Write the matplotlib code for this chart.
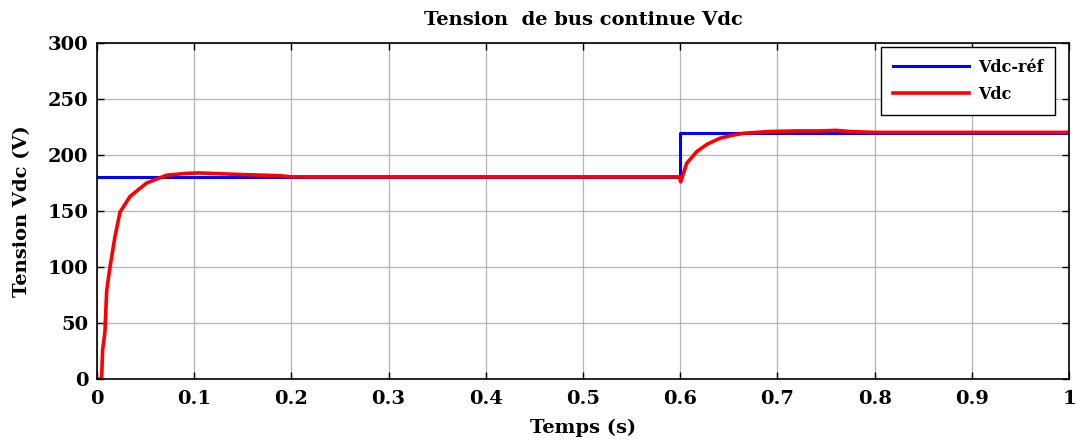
import numpy as np
import matplotlib.pyplot as plt

plt.rcParams['font.family'] = ['DejaVu Serif']
plt.rcParams['font.weight'] = 'bold'

# reference voltage (step at 0.6 s)
t_ref = [0.0, 0.6, 0.6, 1.0]
v_ref = [180, 180, 220, 220]

t_vdc = [0.0, 0.0048, 0.0058, 0.0082, 0.0100, 0.0134, 0.0185, 0.0237, 0.034,
         0.0511, 0.0717, 0.092, 0.105, 0.120, 0.150, 0.171, 0.188, 0.20,
         0.40, 0.5995, 0.6005, 0.6067, 0.617, 0.628, 0.641, 0.653, 0.665,
         0.692, 0.72, 0.744, 0.76, 0.775, 0.80, 1.0]
v_vdc = [0, 0, 26, 42, 79, 100, 127, 149, 163,
         175, 182, 183.6, 184, 183.5, 182.5, 182, 181.5, 180.5,
         180.5, 180.5, 176, 192.6, 203, 209.8, 215, 217.5, 219.4,
         221, 221.5, 221.5, 222, 221, 220.2, 220.2]

xticks = np.arange(0, 1.01, 0.1)
yticks = np.arange(0, 301, 50)
xlabels = ['0', '0.1', '0.2', '0.3', '0.4', '0.5', '0.6', '0.7', '0.8', '0.9', '1']

fig = plt.figure(figsize=(10.75, 4.48), dpi=100)
ax = fig.add_axes([0.0902, 0.154, 0.9042, 0.750])

ax.plot(t_ref, v_ref, color='#0000ff', lw=2.2, label='Vdc-réf')
ax.plot(t_vdc, v_vdc, color='#ff0000', lw=2.6, label='Vdc')

ax.set_xlim(0, 1)
ax.set_ylim(0, 300)
ax.set_xticks(xticks)
ax.set_yticks(yticks)
ax.set_xticklabels(xlabels)
ax.tick_params(direction='in', top=True, right=True, length=5, width=1,
               labelsize=14)
ax.tick_params(axis='x', pad=8)
ax.tick_params(axis='y', pad=6)
for lab in ax.get_xticklabels() + ax.get_yticklabels():
    lab.set_fontweight('bold')
ax.grid(True, color='#b4b4b4', lw=0.9)
for s in ax.spines.values():
    s.set_linewidth(1.2)

ax.set_title('Tension  de bus continue Vdc', fontsize=14, fontweight='bold', pad=13)
ax.set_xlabel('Temps (s)', fontsize=14, fontweight='bold', labelpad=8)
ax.set_ylabel('Tension Vdc (V)', fontsize=14, fontweight='bold', labelpad=12)

leg = ax.legend(loc='upper right', bbox_to_anchor=(0.986, 0.988), borderaxespad=0,
                fontsize=11.5, handlelength=4.75, fancybox=False, edgecolor='black',
                framealpha=1, borderpad=0.75, labelspacing=0.6, handletextpad=0.55)
leg.get_frame().set_linewidth(1.0)
for txt in leg.get_texts():
    txt.set_fontweight('bold')

fig.savefig('out.png', dpi=100)
